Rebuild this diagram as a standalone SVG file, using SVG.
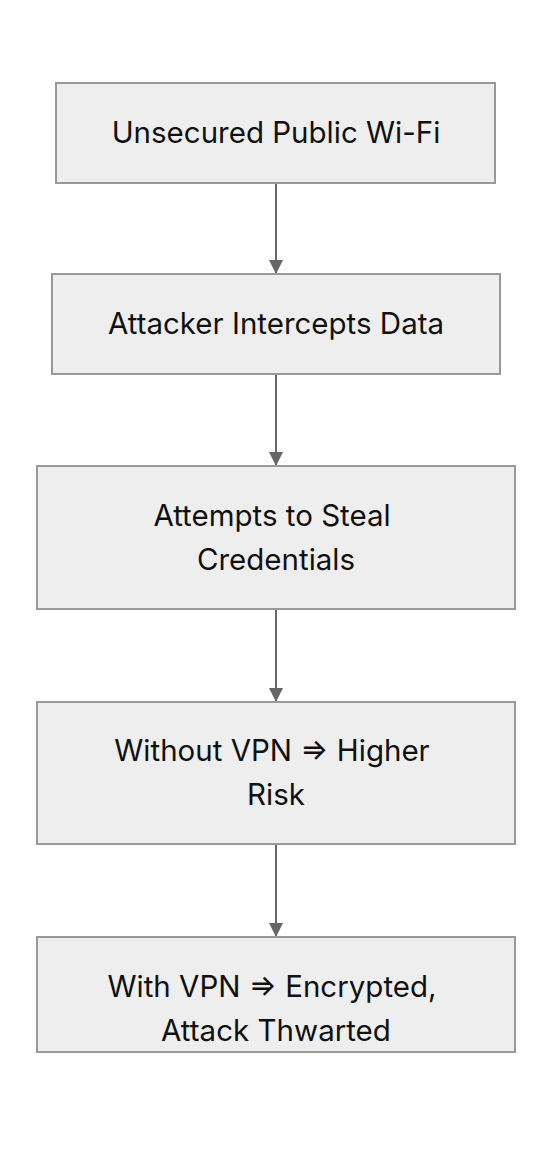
<svg xmlns="http://www.w3.org/2000/svg" width="552" height="1164" viewBox="0 0 552 1164">
<style>
.box{fill:#eeeeee;stroke:#999999;stroke-width:2}
.lbl{font-family:Inter,"Noto Sans","Liberation Sans",sans-serif;font-size:29.5px;fill:#111111;text-anchor:middle}
.edge{stroke:#666666;stroke-width:2;fill:none}
</style>
<defs>
<marker id="arr" viewBox="0 0 14 14" refX="14" refY="7" markerWidth="14" markerHeight="14" markerUnits="userSpaceOnUse" orient="auto">
<path d="M0,0 L14,7 L0,14 Z" fill="#666666"/>
</marker>
</defs>
<rect width="552" height="1164" fill="#ffffff"/>
<g id="connectors">
<line class="edge" x1="276" y1="183" x2="276" y2="274" marker-end="url(#arr)"/>
<line class="edge" x1="276" y1="374" x2="276" y2="466" marker-end="url(#arr)"/>
<line class="edge" x1="276" y1="609" x2="276" y2="702" marker-end="url(#arr)"/>
<line class="edge" x1="276" y1="844" x2="276" y2="937" marker-end="url(#arr)"/>
</g>
<g id="n1">
<rect class="box" x="56" y="83" width="439" height="100"/>
<text class="lbl" x="276" y="143">Unsecured Public Wi-Fi</text>
</g>
<g id="n2">
<rect class="box" x="52" y="274" width="448" height="100"/>
<text class="lbl" x="276" y="334">Attacker Intercepts Data</text>
</g>
<g id="n3">
<rect class="box" x="37" y="466" width="478" height="143"/>
<text class="lbl" x="272" y="526">Attempts to Steal</text>
<text class="lbl" x="276" y="570">Credentials</text>
</g>
<g id="n4">
<rect class="box" x="37" y="702" width="478" height="142"/>
<text class="lbl" x="272" y="761">Without VPN ⇒ Higher</text>
<text class="lbl" x="276" y="805">Risk</text>
</g>
<g id="n5">
<rect class="box" x="37" y="937" width="478" height="115"/>
<text class="lbl" x="272" y="997">With VPN ⇒ Encrypted,</text>
<text class="lbl" x="276" y="1041">Attack Thwarted</text>
</g>
</svg>
